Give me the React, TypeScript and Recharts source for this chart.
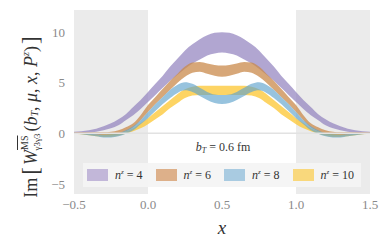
import {
  Area,
  ComposedChart,
  ReferenceArea,
  ReferenceLine,
  XAxis,
  YAxis,
} from "recharts";

const FONT = "'Liberation Serif', serif";

const X_VALUES = [
  -0.5, -0.45, -0.4, -0.35, -0.3, -0.25, -0.2, -0.15, -0.1, -0.05, 0, 0.05, 0.1, 0.15, 0.2, 0.25,
  0.3, 0.35, 0.4, 0.45, 0.5, 0.55, 0.6, 0.65, 0.7, 0.75, 0.8, 0.85, 0.9, 0.95, 1, 1.05, 1.1, 1.15,
  1.2, 1.25, 1.3, 1.35, 1.4, 1.45, 1.5,
];

// n^z = 4
const N4_HIGH = [
  0.15, 0.2, 0.3, 0.45, 0.7, 1.0, 1.4, 1.9, 2.6, 3.3, 4.1, 4.9, 5.7, 6.6, 7.4, 8.2, 8.8, 9.3, 9.7,
  9.95, 10.0, 9.95, 9.7, 9.3, 8.8, 8.2, 7.4, 6.6, 5.7, 4.9, 4.1, 3.3, 2.6, 1.9, 1.4, 1.0, 0.7, 0.45,
  0.3, 0.2, 0.15,
];
const N4_LOW = [
  0.0, 0.02, 0.05, 0.15, 0.3, 0.5, 0.8, 1.3, 1.8, 2.4, 3.1, 3.8, 4.5, 5.2, 5.8, 6.4, 6.9, 7.3, 7.7,
  7.9, 8.0, 7.9, 7.7, 7.3, 6.9, 6.4, 5.8, 5.2, 4.5, 3.8, 3.1, 2.4, 1.8, 1.3, 0.8, 0.5, 0.3, 0.15,
  0.05, 0.02, 0.0,
];
// n^z = 6
const N6_HIGH = [
  0.1, 0.1, 0.1, 0.1, 0.1, 0.15, 0.3, 0.6, 1.0, 1.8, 2.8, 3.6, 4.4, 5.2, 5.9, 6.6, 7.0, 7.05, 6.9,
  6.75, 6.7, 6.75, 6.9, 7.05, 7.0, 6.6, 5.9, 5.2, 4.4, 3.6, 2.8, 1.8, 1.0, 0.6, 0.3, 0.15, 0.1, 0.1,
  0.1, 0.1, 0.1,
];
const N6_LOW = [
  0.0, -0.05, -0.1, -0.15, -0.2, -0.2, -0.1, 0.2, 0.6, 1.3, 2.1, 2.9, 3.6, 4.3, 5.0, 5.6, 6.0, 6.1,
  5.9, 5.7, 5.6, 5.7, 5.9, 6.1, 6.0, 5.6, 5.0, 4.3, 3.6, 2.9, 2.1, 1.3, 0.6, 0.2, -0.1, -0.2, -0.2,
  -0.15, -0.1, -0.05, 0.0,
];
// n^z = 8
const N8_HIGH = [
  0.05, 0.0, -0.05, -0.1, -0.15, -0.1, 0.0, 0.3, 0.7, 1.3, 2.1, 2.9, 3.6, 4.3, 4.8, 5.05, 4.9, 4.5,
  4.1, 3.85, 3.8, 3.85, 4.1, 4.5, 4.9, 5.05, 4.8, 4.3, 3.6, 2.9, 2.1, 1.3, 0.7, 0.3, 0.0, -0.1,
  -0.15, -0.1, -0.05, 0.0, 0.05,
];
const N8_LOW = [
  0.0, -0.1, -0.2, -0.3, -0.4, -0.4, -0.3, -0.05, 0.3, 0.9, 1.5, 2.2, 2.9, 3.5, 4.0, 4.25, 4.1, 3.7,
  3.3, 3.0, 2.9, 3.0, 3.3, 3.7, 4.1, 4.25, 4.0, 3.5, 2.9, 2.2, 1.5, 0.9, 0.3, -0.05, -0.3, -0.4,
  -0.4, -0.3, -0.2, -0.1, 0.0,
];
// n^z = 10
const N10_HIGH = [
  0.0, -0.05, -0.1, -0.15, -0.15, -0.1, 0.0, 0.2, 0.5, 1.0, 1.5, 2.1, 2.7, 3.3, 3.9, 4.35, 4.6, 4.7,
  4.7, 4.7, 4.7, 4.7, 4.7, 4.7, 4.6, 4.35, 3.9, 3.3, 2.7, 2.1, 1.5, 1.0, 0.5, 0.2, 0.0, -0.1, -0.15,
  -0.15, -0.1, -0.05, 0.0,
];
const N10_LOW = [
  -0.05, -0.1, -0.2, -0.3, -0.35, -0.35, -0.25, -0.05, 0.2, 0.5, 0.9, 1.4, 1.9, 2.5, 3.0, 3.5, 3.75,
  3.8, 3.8, 3.8, 3.8, 3.8, 3.8, 3.8, 3.75, 3.5, 3.0, 2.5, 1.9, 1.4, 0.9, 0.5, 0.2, -0.05, -0.25,
  -0.35, -0.35, -0.3, -0.2, -0.1, -0.05,
];

const X_TICKS = [-0.5, 0, 0.5, 1, 1.5];
const X_MINOR_TICKS = [
  -0.5, -0.4, -0.3, -0.2, -0.1, 0, 0.1, 0.2, 0.3, 0.4, 0.5, 0.6, 0.7, 0.8, 0.9, 1, 1.1, 1.2, 1.3,
  1.4, 1.5,
];
const Y_TICKS = [-5, 0, 5, 10];
const Y_MINOR_TICKS = [-6, -5, -4, -3, -2, -1, 0, 1, 2, 3, 4, 5, 6, 7, 8, 9, 10, 11, 12];

const SERIES = [
  { key: "n4", label: "4", fill: "#9080bd", swatch: "#c2b7d9" },
  { key: "n6", label: "6", fill: "#c98a4b", swatch: "#ddb08a" },
  { key: "n10", label: "10", fill: "#fcc630", swatch: "#f9d87c" },
  { key: "n8", label: "8", fill: "#5fa3cc", swatch: "#a9cbe1" },
];
const LEGEND_ORDER = ["n4", "n6", "n8", "n10"];
const OPACITY: Record<string, number> = { n4: 0.7, n6: 0.75, n8: 0.65, n10: 0.75 };

const data = X_VALUES.map((x, i) => ({
  x,
  n4: [N4_LOW[i], N4_HIGH[i]],
  n6: [N6_LOW[i], N6_HIGH[i]],
  n8: [N8_LOW[i], N8_HIGH[i]],
  n10: [N10_LOW[i], N10_HIGH[i]],
}));

const FRAME = "#c4c4c4";
const TICK_STYLE = { fontFamily: FONT, fontSize: 13, fill: "#8a8a8a", style: { fontFamily: FONT } };
const blank = () => "";

function YLabel() {
  const cx = 33;
  const cy = 117;
  return (
    <text
      x={cx}
      y={cy}
      transform={`rotate(-90, ${cx}, ${cy})`}
      textAnchor="middle"
      style={{ fontFamily: FONT }}
      fontSize={18}
      fill="#333"
      dominantBaseline="middle"
    >
      <tspan>Im</tspan>
      <tspan fontSize={23} dx={3}>[</tspan>
      <tspan fontStyle="italic" dx={2}>W</tspan>
      <tspan fontSize={10} dy={-7} textDecoration="overline">MS</tspan>
      <tspan fontSize={9} dy={12} dx={-15}>γ3γ3</tspan>
      <tspan dy={-5} dx={2}>(</tspan>
      <tspan fontStyle="italic">b</tspan>
      <tspan fontSize={10} fontStyle="italic" dy={3}>T</tspan>
      <tspan dy={-3}>, </tspan>
      <tspan fontStyle="italic">μ</tspan>
      <tspan>, </tspan>
      <tspan fontStyle="italic">x</tspan>
      <tspan>, </tspan>
      <tspan fontStyle="italic">P</tspan>
      <tspan fontSize={10} fontStyle="italic" dy={-6}>z</tspan>
      <tspan dy={6}>)</tspan>
      <tspan fontSize={23} dx={2}>]</tspan>
    </text>
  );
}

function LegendBox() {
  return (
    <div
      style={{
        position: "absolute",
        left: 83,
        top: 163,
        width: 278,
        display: "flex",
        alignItems: "center",
        height: 24,
        background: "rgba(244,244,244,0.95)",
        fontFamily: FONT,
        fontSize: 12,
        color: "#333",
        paddingLeft: 4,
        boxSizing: "border-box",
      }}
    >
      {LEGEND_ORDER.map((k) => {
        const s = SERIES.find((d) => d.key === k)!;
        return (
          <div key={k} style={{ display: "flex", alignItems: "center", width: 69 }}>
            <div style={{ width: 21, height: 12, background: s.swatch, marginRight: 7 }} />
            <span>
              <i>n</i>
              <sup style={{ fontSize: 7 }}>
                <i>z</i>
              </sup>{" "}
              = {s.label}
            </span>
          </div>
        );
      })}
    </div>
  );
}

export default function App() {
  return (
    <div
      style={{
        position: "absolute",
        left: 0,
        top: 0,
        width: 382,
        height: 243,
        background: "#fff",
        fontFamily: FONT,
      }}
    >
      <ComposedChart
        width={382}
        height={243}
        data={data}
        margin={{ top: 10, right: 12, bottom: 4, left: 34 }}
        style={{ fontFamily: FONT }}
      >
        <XAxis
          xAxisId="minorB"
          type="number"
          dataKey="x"
          domain={[-0.5, 1.5]}
          ticks={X_MINOR_TICKS}
          mirror
          height={0}
          tickSize={3}
          tickFormatter={blank}
          stroke={FRAME}
          axisLine={{ stroke: FRAME }}
        />
        <XAxis
          xAxisId="main"
          type="number"
          dataKey="x"
          domain={[-0.5, 1.5]}
          ticks={X_TICKS}
          height={45}
          tickLine={false}
          axisLine={false}
          tickMargin={0}
          tickFormatter={(v: number) => (v < 0 ? "\u2212" : "") + Math.abs(v).toFixed(1)}
          tick={TICK_STYLE}
          label={{
            value: "x",
            position: "insideBottom",
            offset: 5,
            style: { fontFamily: FONT, fontSize: 19, fontStyle: "italic", fill: "#333" },
          }}
        />
        <XAxis
          xAxisId="top"
          orientation="top"
          type="number"
          dataKey="x"
          domain={[-0.5, 1.5]}
          ticks={X_MINOR_TICKS}
          mirror
          height={0}
          tickSize={3}
          tickFormatter={blank}
          stroke={FRAME}
          axisLine={{ stroke: FRAME }}
        />
        <YAxis
          yAxisId="minorL"
          type="number"
          domain={[-6, 12.2]}
          ticks={Y_MINOR_TICKS}
          mirror
          width={0}
          tickSize={3}
          tickFormatter={blank}
          stroke={FRAME}
          axisLine={{ stroke: FRAME }}
        />
        <YAxis
          yAxisId="main"
          type="number"
          domain={[-6, 12.2]}
          ticks={Y_TICKS}
          width={40}
          tickLine={false}
          axisLine={false}
          tickMargin={3}
          tickFormatter={(v: number) => (v < 0 ? "\u2212" + Math.abs(v) : String(v))}
          tick={TICK_STYLE}
          label={{ content: () => <YLabel /> }}
        />
        <YAxis
          yAxisId="right"
          orientation="right"
          type="number"
          domain={[-6, 12.2]}
          ticks={Y_MINOR_TICKS}
          mirror
          width={0}
          tickSize={3}
          tickFormatter={blank}
          stroke={FRAME}
          axisLine={{ stroke: FRAME }}
        />
        <ReferenceArea xAxisId="main" yAxisId="main" x1={-0.5} x2={0} fill="#ebebeb" fillOpacity={1} stroke="none" />
        <ReferenceArea xAxisId="main" yAxisId="main" x1={1} x2={1.5} fill="#ebebeb" fillOpacity={1} stroke="none" />
        <ReferenceLine xAxisId="main" yAxisId="main" y={0} stroke="#e2e2e2" strokeWidth={1.5} />
        {SERIES.map((s) => (
          <Area
            key={s.key}
            xAxisId="main"
            yAxisId="main"
            type="monotone"
            dataKey={s.key}
            fill={s.fill}
            fillOpacity={OPACITY[s.key]}
            stroke="none"
            isAnimationActive={false}
          />
        ))}
        <text x={223} y={151} textAnchor="middle" style={{ fontFamily: FONT }} fontSize={12} fill="#333">
          <tspan fontStyle="italic">b</tspan>
          <tspan fontStyle="italic" fontSize={8} dy={2}>T</tspan>
          <tspan dy={-2}> = 0.6 fm</tspan>
        </text>
      </ComposedChart>
      <LegendBox />
    </div>
  );
}
